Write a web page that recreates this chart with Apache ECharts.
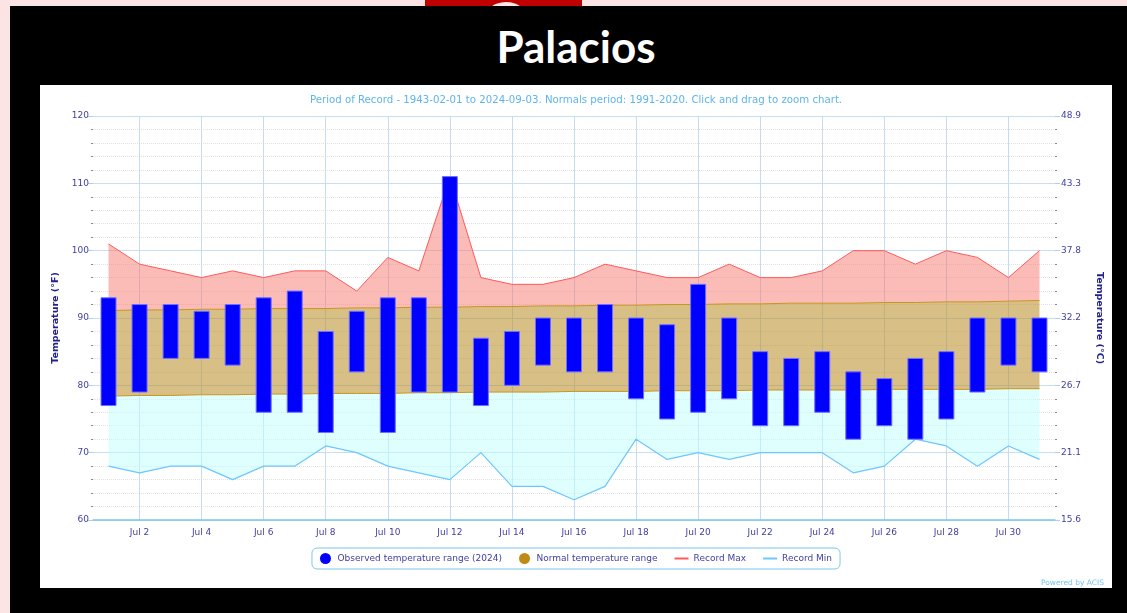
<!DOCTYPE html>
<html>
<head>
<meta charset="utf-8">
<title>Palacios</title>
<script src="https://cdn.jsdelivr.net/npm/echarts@6/dist/echarts.min.js"></script>
<style>
    html, body { margin: 0; padding: 0; }
    body { width: 1127px; height: 613px; background: #fde4e4; position: relative; overflow: hidden; }
    #logo { position: absolute; left: 425px; top: -14px; width: 157px; height: 20px; background: #c00000; border-radius: 50% 50% 0 0; overflow: hidden; }
    #logo-in { position: absolute; left: 58px; top: 16px; width: 46px; height: 40px; background: #fde4e4; border-radius: 50%; }
    #frame { position: absolute; left: 10px; top: 6px; width: 1117px; height: 607px; background: #000; }
    #title { position: absolute; left: 10px; top: 6px; width: 1132px; height: 80px; text-align: center;
        font-family: Lato, "Open Sans", sans-serif; font-weight: 700; font-size: 44px; color: #fff; line-height: 80px; }
    #chart { position: absolute; left: 40px; top: 85px; width: 1072px; height: 503px; background: #fff; }
</style>
</head>
<body>
<div id="logo"><div id="logo-in"></div></div>
<div id="frame"></div>
<div id="title">Palacios</div>
<div id="chart"></div>
<script>
    // July 2024, degrees F
    var days = ['Jul 1', 'Jul 2', 'Jul 3', 'Jul 4', 'Jul 5', 'Jul 6', 'Jul 7', 'Jul 8', 'Jul 9', 'Jul 10',
        'Jul 11', 'Jul 12', 'Jul 13', 'Jul 14', 'Jul 15', 'Jul 16', 'Jul 17', 'Jul 18', 'Jul 19', 'Jul 20',
        'Jul 21', 'Jul 22', 'Jul 23', 'Jul 24', 'Jul 25', 'Jul 26', 'Jul 27', 'Jul 28', 'Jul 29', 'Jul 30', 'Jul 31']
    var obsMax = [93, 92, 92, 91, 92, 93, 94, 88, 91, 93, 93, 111, 87, 88, 90, 90, 92, 90, 89, 95, 90, 85, 84, 85, 82, 81, 84, 85, 90, 90, 90]
    var obsMin = [77, 79, 84, 84, 83, 76, 76, 73, 82, 73, 79, 79, 77, 80, 83, 82, 82, 78, 75, 76, 78, 74, 74, 76, 72, 74, 72, 75, 79, 83, 82]
    var normalMax = [91.1, 91.2, 91.2, 91.3, 91.3, 91.4, 91.4, 91.4, 91.5, 91.5, 91.6, 91.6, 91.7, 91.7, 91.8, 91.8,
        91.9, 91.9, 92.0, 92.0, 92.1, 92.1, 92.2, 92.2, 92.2, 92.3, 92.3, 92.4, 92.4, 92.5, 92.6]
    var normalMin = [78.4, 78.5, 78.5, 78.6, 78.6, 78.7, 78.7, 78.8, 78.8, 78.8, 78.9, 78.9, 79.0, 79.0, 79.0, 79.1,
        79.1, 79.1, 79.2, 79.2, 79.2, 79.3, 79.3, 79.3, 79.3, 79.4, 79.4, 79.4, 79.4, 79.5, 79.5]
    var recordMax = [101, 98, 97, 96, 97, 96, 97, 97, 94, 99, 97, 111, 96, 95, 95, 96, 98, 97, 96, 96, 98, 96, 96, 97, 100, 100, 98, 100, 99, 96, 100]
    var recordMin = [68, 67, 68, 68, 66, 68, 68, 71, 70, 68, 67, 66, 70, 65, 65, 63, 65, 72, 69, 70, 69, 70, 70, 70, 67, 68, 72, 71, 68, 71, 69]

    var font = '"DejaVu Sans", Verdana, sans-serif'
    var labelColor = '#3f3f9f'
    var evenDay = function (i) { return i % 2 === 1 }
    var lineIcon = 'path://M0,0H14V2H0Z'

    // filled band between two arrays, drawn as one polygon via the axis scales
    function band(name, lower, upper, fill, color) {
        return {
            name: name,
            type: 'custom',
            data: days.map(function (d, i) { return [i, lower[i], upper[i]] }),
            encode: { x: 0, y: [1, 2] },
            itemStyle: { color: color || fill },
            silent: true,
            z: 1,
            renderItem: function (params, api) {
                if (params.dataIndex !== 0) return null
                var pts = []
                for (var i = 0; i < days.length; i++) pts.push(api.coord([i, upper[i]]))
                for (var j = days.length - 1; j >= 0; j--) pts.push(api.coord([j, lower[j]]))
                return { type: 'polygon', shape: { points: pts }, style: { fill: fill } }
            }
        }
    }

    function edge(name, values, color, width, z) {
        return {
            name: name,
            type: 'line',
            data: values,
            symbol: 'none',
            color: color,
            lineStyle: { color: color, width: width },
            silent: true,
            z: z
        }
    }

    var chart = echarts.init(document.getElementById('chart'))
    chart.setOption({
        animation: false,
        textStyle: { fontFamily: font },
        title: [{
            text: 'Period of Record - 1943-02-01 to 2024-09-03. Normals period: 1991-2020. Click and drag to zoom chart.',
            left: 'center',
            top: 5,
            textStyle: { fontSize: 10.2, fontWeight: 'normal', color: '#5db5ea', fontFamily: font }
        }, {
            text: 'Powered by ACIS',
            right: 3,
            top: 489,
            textStyle: { fontSize: 7.5, fontWeight: 'normal', color: '#7cc3ee', fontFamily: font }
        }],
        legend: {
            data: [
                { name: 'Observed temperature range (2024)', icon: 'circle' },
                { name: 'Normal temperature range', icon: 'circle' },
                { name: 'Record Max', icon: lineIcon },
                { name: 'Record Min', icon: lineIcon }
            ],
            left: 'center',
            top: 463,
            borderColor: '#7cc7f0',
            borderWidth: 1,
            borderRadius: 5,
            padding: [5, 8],
            itemGap: 17,
            itemWidth: 14,
            itemHeight: 11,
            selectedMode: false,
            textStyle: { fontSize: 9, color: labelColor, fontFamily: font }
        },
        grid: { left: 53, right: 56, top: 31, bottom: 68 },
        xAxis: {
            type: 'category',
            data: days,
            boundaryGap: true,
            axisLine: { lineStyle: { color: '#7fc4ee', width: 1.5 } },
            axisTick: { show: false },
            axisLabel: { interval: evenDay, color: labelColor, fontSize: 9, margin: 8 },
            splitLine: { show: true, interval: evenDay, alignWithLabel: true, lineStyle: { color: '#c5dcf0' } }
        },
        yAxis: [{
            type: 'value',
            min: 60,
            max: 120,
            interval: 10,
            name: 'Temperature (°F)',
            nameLocation: 'middle',
            nameGap: 28,
            nameTextStyle: { fontSize: 9.5, fontWeight: 'bold', color: '#22228a' },
            axisLine: { show: false },
            axisTick: { show: true, length: 5, lineStyle: { color: '#a9d2ee' } },
            minorTick: { show: true, splitNumber: 5, length: 2, lineStyle: { color: '#888' } },
            axisLabel: { color: labelColor, fontSize: 9, margin: 4 },
            splitLine: { lineStyle: { color: '#c8dff1' } },
            minorSplitLine: { show: true, lineStyle: { color: '#e2e2e2', type: 'dotted' } }
        }, {
            type: 'value',
            min: 60,
            max: 120,
            interval: 10,
            position: 'right',
            name: 'Temperature (°C)',
            nameLocation: 'middle',
            nameRotate: -90,
            nameGap: 39,
            nameTextStyle: { fontSize: 9.5, fontWeight: 'bold', color: '#22228a' },
            axisLine: { show: false },
            axisTick: { show: true, length: 5, lineStyle: { color: '#a9d2ee' } },
            minorTick: { show: true, splitNumber: 5, length: 2, lineStyle: { color: '#888' } },
            axisLabel: {
                color: labelColor, fontSize: 9, margin: 6,
                formatter: function (v) { return ((v - 32) * 5 / 9).toFixed(1) }
            },
            splitLine: { show: false }
        }],
        series: [
            band('coldBand', recordMin, normalMin, 'rgba(192,255,255,0.5)'),
            band('Normal temperature range', normalMin, normalMax, 'rgba(186,140,40,0.56)', '#bf8a16'),
            band('hotBand', normalMax, recordMax, 'rgba(248,120,110,0.5)'),
            edge('normalMinLine', normalMin, '#c8961e', 1, 2),
            edge('normalMaxLine', normalMax, '#c8961e', 1, 2),
            edge('Record Max', recordMax, '#ff5a5a', 1, 2),
            edge('Record Min', recordMin, '#6ec6ff', 1.2, 2),
            {
                name: 'Observed temperature range (2024)',
                type: 'custom',
                data: days.map(function (d, i) { return [i, obsMin[i], obsMax[i]] }),
                encode: { x: 0, y: [1, 2] },
                itemStyle: { color: '#0000ff' },
                z: 3,
                renderItem: function (params, api) {
                    var top = api.coord([api.value(0), api.value(2)])
                    var bot = api.coord([api.value(0), api.value(1)])
                    var w = 15
                    return {
                        type: 'rect',
                        shape: { x: top[0] - w / 2, y: top[1], width: w, height: bot[1] - top[1] },
                        style: { fill: '#0000ff', stroke: '#7070ff', lineWidth: 1 }
                    }
                }
            }
        ]
    })
</script>
</body>
</html>
